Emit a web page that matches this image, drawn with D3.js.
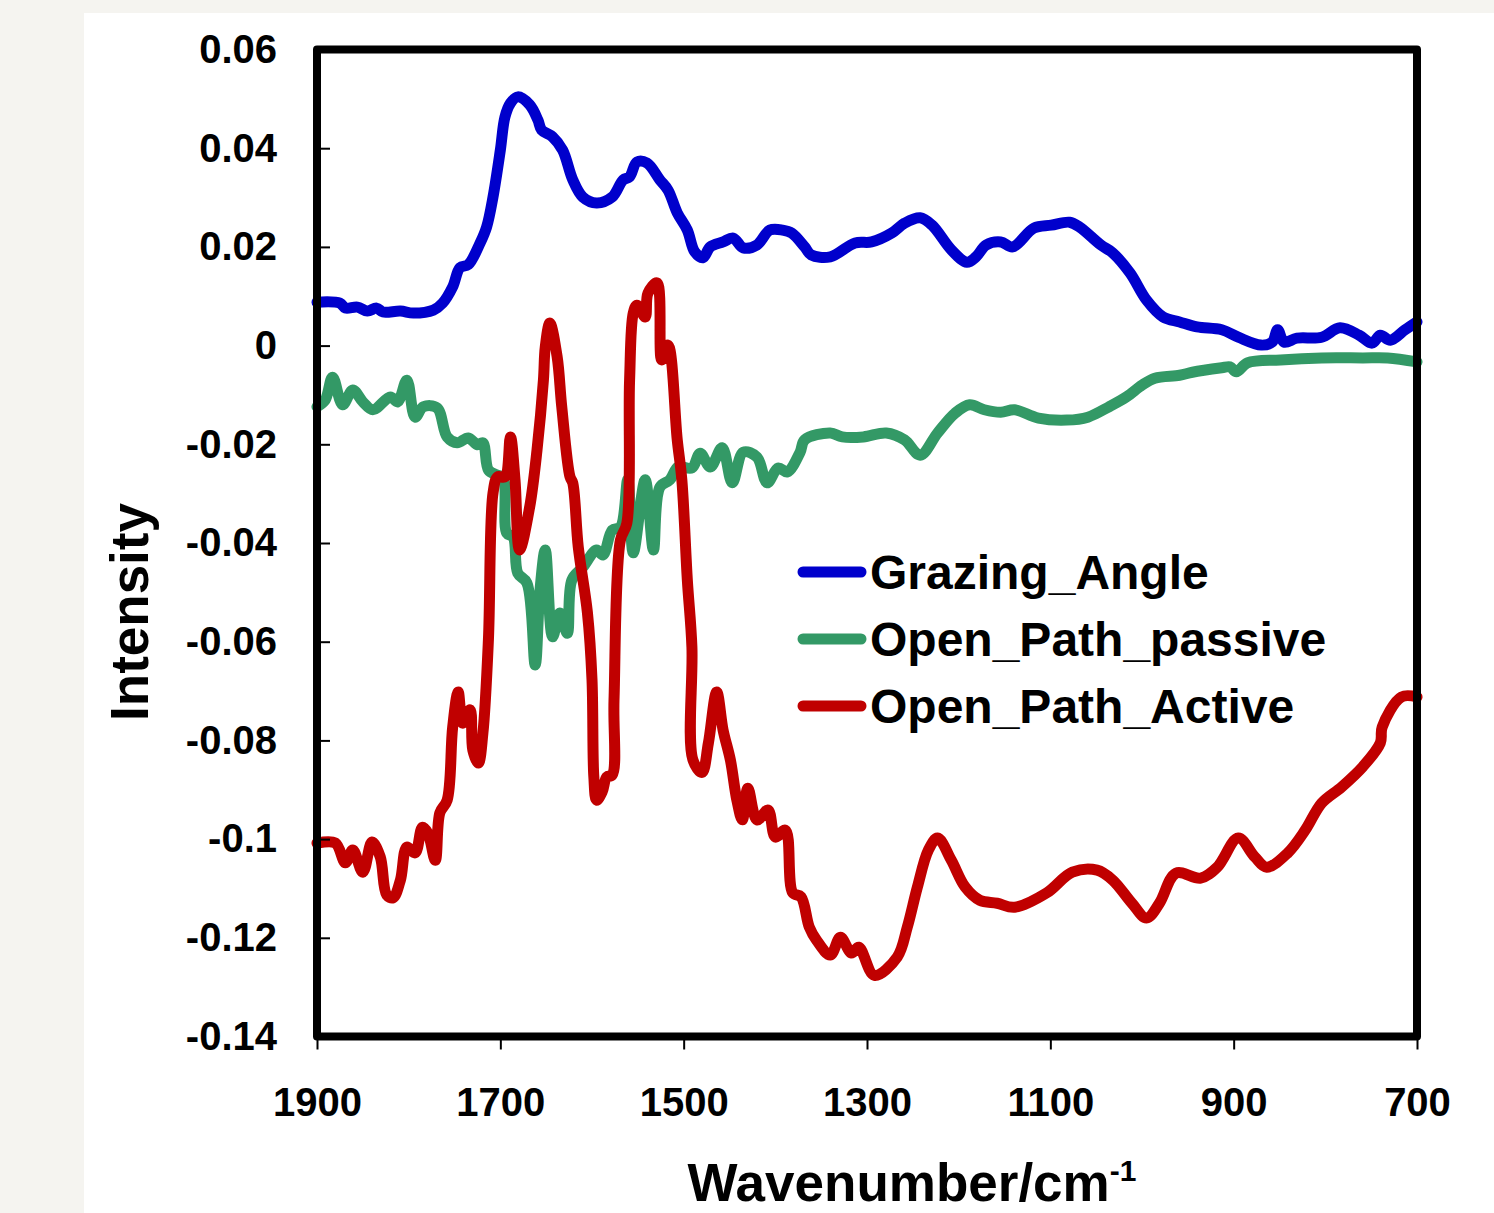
<!DOCTYPE html>
<html>
<head>
<meta charset="utf-8">
<script src="https://cdn.jsdelivr.net/npm/d3@7"></script>
<style>
  html, body { margin: 0; padding: 0; background: #f5f4f0; }
  svg { display: block; }
  text { font-family: "Liberation Sans", Arial, sans-serif; font-weight: bold; fill: #000; }
</style>
</head>
<body>
<svg id="chart" width="1494" height="1213"></svg>
<script>
// wavenumbers (cm-1) and intensities
const grazingWn = [1900,1875,1869,1856,1845,1835,1828,1809,1795,1773,1763,1752,1744,1735,1722,1715,1708,1700,1695,1689,1681,1668,1659,1655,1643,1632,1621,1610,1595,1578,1566,1559,1551,1540,1526,1517,1507,1496,1488,1479,1471,1457,1446,1435,1420,1406,1392,1382,1368,1361,1340,1313,1295,1273,1259,1242,1229,1208,1191,1181,1170,1154,1141,1118,1099,1079,1068,1045,1032,1013,995,977,959,940,913,895,870,858,852,845,831,804,784,763,749,740,729,713,700]
const grazingVal = [0.0088,0.0086,0.0076,0.0078,0.0070,0.0076,0.0068,0.0070,0.0066,0.0072,0.0086,0.0119,0.0158,0.0164,0.0208,0.0240,0.0301,0.0396,0.0463,0.0491,0.0504,0.0488,0.0457,0.0437,0.0423,0.0396,0.0336,0.0301,0.0289,0.0301,0.0336,0.0342,0.0372,0.0370,0.0336,0.0315,0.0269,0.0234,0.0190,0.0178,0.0200,0.0210,0.0218,0.0198,0.0204,0.0234,0.0234,0.0228,0.0200,0.0184,0.0180,0.0208,0.0210,0.0228,0.0248,0.0259,0.0244,0.0194,0.0169,0.0180,0.0204,0.0210,0.0200,0.0238,0.0244,0.0250,0.0240,0.0204,0.0188,0.0147,0.0092,0.0058,0.0048,0.0038,0.0032,0.0017,0.0001,0.0007,0.0032,0.0007,0.0015,0.0017,0.0036,0.0021,0.0005,0.0021,0.0011,0.0032,0.0048]

const passiveWn = [1900,1891,1883,1872,1861,1850,1839,1820,1812,1802,1793,1784,1769,1758,1747,1735,1725,1719,1713,1704,1697,1693,1686,1681,1671,1662,1657,1651,1643,1635,1627,1622,1610,1595,1588,1578,1569,1561,1555,1542,1533,1526,1515,1506,1491,1482,1471,1458,1447,1435,1420,1409,1397,1387,1373,1368,1340,1327,1304,1279,1259,1242,1223,1204,1188,1172,1154,1139,1113,1082,1059,1036,1017,1000,986,959,945,913,904,897,885,849,804,759,732,700]
const passiveVal = [-0.0124,-0.0110,-0.0064,-0.0120,-0.0090,-0.0114,-0.0130,-0.0104,-0.0114,-0.0070,-0.0145,-0.0124,-0.0126,-0.0185,-0.0197,-0.0187,-0.0201,-0.0197,-0.0252,-0.0262,-0.0268,-0.0380,-0.0388,-0.0461,-0.0481,-0.0647,-0.0501,-0.0414,-0.0590,-0.0542,-0.0583,-0.0475,-0.0449,-0.0414,-0.0424,-0.0374,-0.0368,-0.0272,-0.0420,-0.0272,-0.0414,-0.0287,-0.0272,-0.0246,-0.0248,-0.0218,-0.0246,-0.0207,-0.0278,-0.0216,-0.0226,-0.0278,-0.0248,-0.0256,-0.0216,-0.0191,-0.0177,-0.0185,-0.0185,-0.0177,-0.0191,-0.0222,-0.0177,-0.0137,-0.0120,-0.0130,-0.0135,-0.0130,-0.0147,-0.0151,-0.0145,-0.0124,-0.0104,-0.0080,-0.0066,-0.0060,-0.0054,-0.0045,-0.0043,-0.0053,-0.0035,-0.0029,-0.0025,-0.0025,-0.0025,-0.0033]

const activeWn = [1900,1880,1869,1861,1850,1840,1831,1824,1817,1809,1802,1793,1785,1779,1771,1766,1758,1752,1746,1741,1733,1730,1724,1719,1713,1708,1703,1695,1689,1684,1679,1668,1660,1653,1651,1646,1638,1633,1624,1621,1615,1605,1600,1598,1595,1589,1584,1578,1576,1569,1562,1559,1555,1551,1542,1539,1529,1524,1517,1507,1502,1496,1491,1490,1480,1473,1464,1457,1449,1442,1436,1430,1420,1408,1400,1389,1381,1372,1363,1355,1340,1329,1317,1309,1292,1267,1256,1245,1233,1223,1208,1193,1177,1158,1139,1104,1076,1049,1032,1011,995,981,963,936,918,895,877,864,841,822,804,782,759,740,738,717,700]
const activeVal = [-0.1008,-0.1008,-0.1048,-0.1022,-0.1067,-0.1006,-0.1036,-0.1113,-0.1119,-0.1083,-0.1016,-0.1028,-0.0976,-0.0988,-0.1043,-0.0947,-0.0921,-0.0773,-0.0702,-0.0765,-0.0738,-0.0820,-0.0846,-0.0785,-0.0596,-0.0299,-0.0266,-0.0266,-0.0185,-0.0272,-0.0414,-0.0327,-0.0212,-0.0070,-0.0003,0.0046,-0.0023,-0.0124,-0.0266,-0.0278,-0.0408,-0.0541,-0.0677,-0.0874,-0.0921,-0.0905,-0.0874,-0.0870,-0.0719,-0.0394,-0.0360,-0.0070,0.0066,0.0082,0.0058,0.0106,0.0127,-0.0029,0.0001,-0.0191,-0.0272,-0.0475,-0.0611,-0.0839,-0.0865,-0.0805,-0.0702,-0.0779,-0.0840,-0.0921,-0.0961,-0.0897,-0.0961,-0.0941,-0.0996,-0.0982,-0.1109,-0.1117,-0.1178,-0.1205,-0.1235,-0.1199,-0.1231,-0.1219,-0.1276,-0.1239,-0.1178,-0.1097,-0.1022,-0.0998,-0.1043,-0.1097,-0.1124,-0.1130,-0.1138,-0.1109,-0.1067,-0.1063,-0.1083,-0.1130,-0.1160,-0.1130,-0.1069,-0.1079,-0.1057,-0.0998,-0.1036,-0.1057,-0.1028,-0.0982,-0.0927,-0.0894,-0.0853,-0.0805,-0.0773,-0.0712,-0.0712]

const seriesNames = ["Grazing_Angle", "Open_Path_passive", "Open_Path_Active"]
const seriesColors = ["#0000cc", "#339966", "#c00000"]
const xTicks = [1900, 1700, 1500, 1300, 1100, 900, 700]
const yTicks = [0.06, 0.04, 0.02, 0, -0.02, -0.04, -0.06, -0.08, -0.1, -0.12, -0.14]

const svg = d3.select("#chart")

// white panel
svg.append("rect")
  .attr("x", 84).attr("y", 13)
  .attr("width", 1494 - 84).attr("height", 1213 - 13)
  .attr("fill", "#ffffff")

const plotLeft = 317, plotRight = 1417, plotTop = 49.5, plotBottom = 1036.5

const x = d3.scaleLinear().domain([1900, 700]).range([plotLeft, plotRight])
const y = d3.scaleLinear().domain([-0.14, 0.06]).range([plotBottom, plotTop])

const series = [
  grazingWn.map((w, i) => ({ w, v: grazingVal[i] })),
  passiveWn.map((w, i) => ({ w, v: passiveVal[i] })),
  activeWn.map((w, i) => ({ w, v: activeVal[i] }))
]

const line = d3.line()
  .x(d => x(d.w))
  .y(d => y(d.v))
  .curve(d3.curveCatmullRom.alpha(0.5))

series.forEach((data, i) => {
  svg.append("path")
    .datum(data)
    .attr("fill", "none")
    .attr("stroke", seriesColors[i])
    .attr("stroke-width", 11)
    .attr("stroke-linejoin", "round")
    .attr("stroke-linecap", "round")
    .attr("d", line)
})

// Y axis
const yAxis = svg.append("g")
  .attr("transform", `translate(${plotLeft},0)`)
  .call(d3.axisLeft(y)
    .tickValues(yTicks)
    .tickSizeInner(-13)
    .tickSizeOuter(0)
    .tickPadding(40)
    .tickFormat(d => d === 0 ? "0" : String(+d.toFixed(2))))
yAxis.select(".domain").remove()
yAxis.selectAll(".tick line").attr("stroke", "#000").attr("stroke-width", 2)
yAxis.selectAll("text")
  .style("font-size", "40px")
  .style("font-family", "'Liberation Sans', Arial, sans-serif")
  .style("font-weight", "bold")
  .attr("fill", "#000")

// X axis
const xAxis = svg.append("g")
  .attr("transform", `translate(0,${plotBottom})`)
  .call(d3.axisBottom(x)
    .tickValues(xTicks)
    .tickSizeInner(13)
    .tickSizeOuter(0)
    .tickPadding(38)
    .tickFormat(d3.format("d")))
xAxis.select(".domain").remove()
xAxis.selectAll(".tick line").attr("stroke", "#000").attr("stroke-width", 2)
xAxis.selectAll("text")
  .style("font-size", "40px")
  .style("font-family", "'Liberation Sans', Arial, sans-serif")
  .style("font-weight", "bold")
  .attr("fill", "#000")

// frame
svg.append("rect")
  .attr("x", plotLeft).attr("y", plotTop)
  .attr("width", plotRight - plotLeft).attr("height", plotBottom - plotTop)
  .attr("fill", "none")
  .attr("stroke", "#000")
  .attr("stroke-width", 8)
  .attr("stroke-linejoin", "round")

// axis titles
const xTitle = svg.append("text")
  .attr("x", 912).attr("y", 1201)
  .attr("text-anchor", "middle")
  .style("font-size", "53px")
xTitle.append("tspan").text("Wavenumber/cm")
xTitle.append("tspan")
  .attr("dy", -20)
  .style("font-size", "30px")
  .text("-1")

svg.append("text")
  .attr("transform", "translate(148,612) rotate(-90)")
  .attr("text-anchor", "middle")
  .style("font-size", "53px")
  .text("Intensity")

// legend
const legendY = [572, 639, 706]
seriesNames.forEach((name, i) => {
  svg.append("line")
    .attr("x1", 803).attr("x2", 861)
    .attr("y1", legendY[i]).attr("y2", legendY[i])
    .attr("stroke", seriesColors[i])
    .attr("stroke-width", 11)
    .attr("stroke-linecap", "round")
  svg.append("text")
    .attr("x", 870).attr("y", legendY[i])
    .attr("dy", "0.35em")
    .style("font-size", "48px")
    .text(name)
})
</script>
</body>
</html>
